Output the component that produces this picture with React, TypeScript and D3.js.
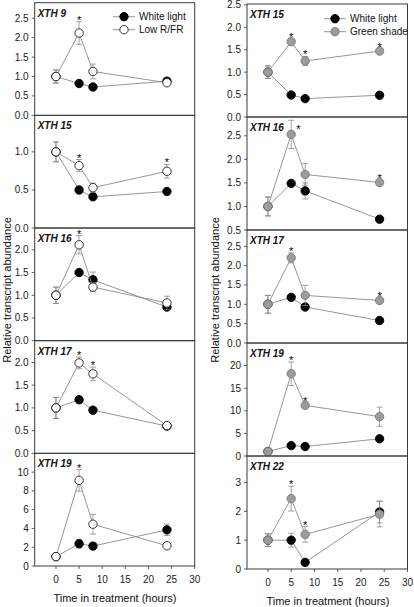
import React from "react";
import * as d3 from "d3";

const times = [0, 5, 8, 24];
const xTicks = [0, 5, 10, 15, 20, 25, 30];

// Left column: White light vs Low R/FR
const lXth9White = [1.0, 0.82, 0.73, 0.88];
const lXth9WhiteErr = [0.17, 0.07, 0.04, 0.03];
const lXth9Low = [1.0, 2.12, 1.13, 0.84];
const lXth9LowErr = [0.17, 0.29, 0.19, 0.04];
const lXth9Stars = [false, true, false, false];

const lXth15White = [1.0, 0.5, 0.41, 0.48];
const lXth15WhiteErr = [0.13, 0.05, 0.02, 0.02];
const lXth15Low = [1.0, 0.82, 0.53, 0.745];
const lXth15LowErr = [0.13, 0.08, 0.06, 0.09];
const lXth15Stars = [false, true, false, true];

const lXth16White = [1.0, 1.5, 1.34, 0.74];
const lXth16WhiteErr = [0.18, 0.05, 0.17, 0.04];
const lXth16Low = [1.0, 2.11, 1.18, 0.83];
const lXth16LowErr = [0.18, 0.2, 0.1, 0.15];
const lXth16Stars = [false, true, false, false];

const lXth17White = [1.0, 1.18, 0.95, 0.6];
const lXth17WhiteErr = [0.23, 0.07, 0.04, 0.06];
const lXth17Low = [1.0, 1.99, 1.75, 0.61];
const lXth17LowErr = [0.23, 0.13, 0.15, 0.07];
const lXth17Stars = [false, true, true, false];

const lXth19White = [1.0, 2.37, 2.12, 3.85];
const lXth19WhiteErr = [0.2, 0.45, 0.35, 0.6];
const lXth19Low = [1.0, 9.12, 4.45, 2.15];
const lXth19LowErr = [0.15, 1.15, 1.05, 0.2];
const lXth19Stars = [false, true, false, false];

// Right column: White light vs Green shade
const rXth15White = [1.0, 0.49, 0.41, 0.485];
const rXth15WhiteErr = [0.14, 0.03, 0.02, 0.02];
const rXth15Green = [1.0, 1.68, 1.25, 1.47];
const rXth15GreenErr = [0.14, 0.07, 0.1, 0.04];
const rXth15Stars = [false, true, true, true];

const rXth16White = [1.0, 1.49, 1.33, 0.73];
const rXth16WhiteErr = [0.2, 0.06, 0.17, 0.03];
const rXth16Green = [1.0, 2.53, 1.68, 1.51];
const rXth16GreenErr = [0.2, 0.3, 0.23, 0.05];
const rXth16Stars = [false, true, false, true];

const rXth17White = [1.0, 1.18, 0.93, 0.58];
const rXth17WhiteErr = [0.23, 0.05, 0.05, 0.05];
const rXth17Green = [1.0, 2.2, 1.23, 1.1];
const rXth17GreenErr = [0.23, 0.13, 0.26, 0.05];
const rXth17Stars = [false, true, false, true];

const rXth19White = [1.0, 2.3, 2.1, 3.8];
const rXth19WhiteErr = [0.2, 0.4, 0.3, 0.4];
const rXth19Green = [1.0, 18.2, 11.2, 8.7];
const rXth19GreenErr = [0.3, 2.6, 0.6, 2.1];
const rXth19Stars = [false, true, true, false];

const rXth22White = [1.0, 1.0, 0.23, 1.98];
const rXth22WhiteErr = [0.22, 0.24, 0.05, 0.38];
const rXth22Green = [1.0, 2.44, 1.2, 1.9];
const rXth22GreenErr = [0.22, 0.43, 0.27, 0.44];
const rXth22Stars = [false, true, true, false];

const leftLabels = ["XTH 9", "XTH 15", "XTH 16", "XTH 17", "XTH 19"];
const rightLabels = ["XTH 15", "XTH 16", "XTH 17", "XTH 19", "XTH 22"];

const leftDomains = [[0, 2.9], [0, 1.48], [0, 2.48], [0, 2.48], [0, 12]];
const leftTicks = [
  [0, 0.5, 1.0, 1.5, 2.0, 2.5],
  [0, 0.5, 1.0],
  [0, 0.5, 1.0, 1.5, 2.0],
  [0, 0.5, 1.0, 1.5, 2.0],
  [0, 2, 4, 6, 8, 10],
];
const rightDomains = [[0, 2.52], [0.5, 2.9], [0, 2.92], [0, 25], [0, 3.92]];
const rightTicks = [
  [0, 0.5, 1.0, 1.5, 2.0, 2.5],
  [0.5, 1.0, 1.5, 2.0, 2.5],
  [0, 0.5, 1.0, 1.5, 2.0, 2.5],
  [0, 5, 10, 15, 20],
  [0, 1, 2, 3],
];

const FONT = "'Liberation Sans', Arial, Helvetica, sans-serif";
const LINE = "#8a8a8a";
const FRAME = "#3a3a3a";

type Series = { mean: number[]; err: number[]; fill: string; stroke: string };

function Panel(props: {
  x0: number; x1: number; y0: number; y1: number;
  xDomain: [number, number]; yDomain: number[]; yTicks: number[];
  label: string; ctrl: Series; trt: Series; stars: boolean[];
  decimals: boolean; bottom: boolean;
}) {
  const { x0, x1, y0, y1, xDomain, yDomain, yTicks, label, ctrl, trt, stars, decimals, bottom } = props;
  const x = d3.scaleLinear().domain(xDomain).range([x0, x1]);
  const y = d3.scaleLinear().domain(yDomain).range([y1, y0]);
  const line = d3.line<number>().x((_, i) => x(times[i])).y((d) => y(d));
  const fmt = decimals ? d3.format(".1f") : d3.format("d");
  const drawSeries = (s: Series, key: string) => (
    <g key={key}>
      <path d={line(s.mean) || ""} fill="none" stroke={LINE} strokeWidth={0.9} />
      {s.mean.map((m, i) => {
        const cx = x(times[i]);
        const top = y(m + s.err[i]);
        const bot = y(Math.max(yDomain[0], m - s.err[i]));
        return (
          <g key={i}>
            <line x1={cx} x2={cx} y1={top} y2={bot} stroke={LINE} strokeWidth={0.8} />
            <line x1={cx - 3} x2={cx + 3} y1={top} y2={top} stroke={LINE} strokeWidth={0.8} />
            <line x1={cx - 3} x2={cx + 3} y1={bot} y2={bot} stroke={LINE} strokeWidth={0.8} />
          </g>
        );
      })}
      {s.mean.map((m, i) => (
        <circle key={"c" + i} cx={x(times[i])} cy={y(m)} r={4.2} fill={s.fill} stroke={s.stroke} strokeWidth={0.9} />
      ))}
    </g>
  );
  return (
    <g>
      <rect x={x0} y={y0} width={x1 - x0} height={y1 - y0} fill="none" stroke={FRAME} strokeWidth={1} />
      {yTicks.map((t) => (
        <g key={t}>
          <line x1={x0 - 3} x2={x0} y1={y(t)} y2={y(t)} stroke={FRAME} strokeWidth={0.8} />
          <text x={x0 - 6} y={y(t)} dy="0.35em" textAnchor="end" fontSize={10} fontFamily={FONT} fill="#222">
            {fmt(t)}
          </text>
        </g>
      ))}
      {bottom &&
        xTicks.map((t) => (
          <g key={"x" + t}>
            <line x1={x(t)} x2={x(t)} y1={y1} y2={y1 + 3} stroke={FRAME} strokeWidth={0.8} />
            <text x={x(t)} y={y1 + 17} textAnchor="middle" fontSize={10} fontFamily={FONT} fill="#222">
              {t}
            </text>
          </g>
        ))}
      <text x={x0 + 3} y={y0 + 14} fontSize={10} fontWeight="bold" fontStyle="italic" fontFamily={FONT} fill="#111">
        {label}
      </text>
      {drawSeries(ctrl, "ctrl")}
      {drawSeries(trt, "trt")}
      {stars.map((s, i) => {
        if (!s) return null;
        const m = trt.mean[i];
        const topVal = m + trt.err[i];
        const cx = x(times[i]);
        const topY = y(topVal);
        if (topY - 6 < y0) {
          return (
            <text key={"s" + i} x={cx + 5} y={y(m) - 1} fontSize={11} fontFamily={FONT} fill="#000">*</text>
          );
        }
        return (
          <text key={"s" + i} x={cx} y={topY + 2} textAnchor="middle" fontSize={11} fontFamily={FONT} fill="#000">
            *
          </text>
        );
      })}
    </g>
  );
}

function Legend(props: { x: number; y: number; trtName: string; trtFill: string; trtStroke: string }) {
  const { x, y, trtName, trtFill, trtStroke } = props;
  const rows = [
    { name: "White light", fill: "#000", stroke: "#000" },
    { name: trtName, fill: trtFill, stroke: trtStroke },
  ];
  return (
    <g>
      {rows.map((r, i) => (
        <g key={i} transform={`translate(0, ${i * 13})`}>
          <line x1={x} x2={x + 22} y1={y} y2={y} stroke={LINE} strokeWidth={0.9} />
          <circle cx={x + 11} cy={y} r={4.2} fill={r.fill} stroke={r.stroke} strokeWidth={0.9} />
          <text x={x + 26} y={y} dy="0.35em" fontSize={10} fontFamily={FONT} fill="#111">{r.name}</text>
        </g>
      ))}
    </g>
  );
}

export default function App() {
  const whiteS = (m: number[], e: number[]): Series => ({ mean: m, err: e, fill: "#000", stroke: "#000" });
  const openS = (m: number[], e: number[]): Series => ({ mean: m, err: e, fill: "#fff", stroke: "#222" });
  const greenS = (m: number[], e: number[]): Series => ({ mean: m, err: e, fill: "#9c9c9c", stroke: "#7a7a7a" });

  const leftData = [
    [whiteS(lXth9White, lXth9WhiteErr), openS(lXth9Low, lXth9LowErr), lXth9Stars],
    [whiteS(lXth15White, lXth15WhiteErr), openS(lXth15Low, lXth15LowErr), lXth15Stars],
    [whiteS(lXth16White, lXth16WhiteErr), openS(lXth16Low, lXth16LowErr), lXth16Stars],
    [whiteS(lXth17White, lXth17WhiteErr), openS(lXth17Low, lXth17LowErr), lXth17Stars],
    [whiteS(lXth19White, lXth19WhiteErr), openS(lXth19Low, lXth19LowErr), lXth19Stars],
  ] as [Series, Series, boolean[]][];
  const rightData = [
    [whiteS(rXth15White, rXth15WhiteErr), greenS(rXth15Green, rXth15GreenErr), rXth15Stars],
    [whiteS(rXth16White, rXth16WhiteErr), greenS(rXth16Green, rXth16GreenErr), rXth16Stars],
    [whiteS(rXth17White, rXth17WhiteErr), greenS(rXth17Green, rXth17GreenErr), rXth17Stars],
    [whiteS(rXth19White, rXth19WhiteErr), greenS(rXth19Green, rXth19GreenErr), rXth19Stars],
    [whiteS(rXth22White, rXth22WhiteErr), greenS(rXth22Green, rXth22GreenErr), rXth22Stars],
  ] as [Series, Series, boolean[]][];

  const lTop = 2.7, lH = 112.66;
  const rTop = 4, rH = 113;

  return (
    <svg width={414} height={607} style={{ position: "absolute", left: 0, top: 0, background: "#fff" }}>
      {leftData.map((d, i) => (
        <Panel key={"l" + i} x0={34.7} x1={194.7} y0={lTop + i * lH} y1={lTop + (i + 1) * lH}
          xDomain={[-4.6, 30]} yDomain={leftDomains[i]} yTicks={leftTicks[i]} label={leftLabels[i]}
          ctrl={d[0]} trt={d[1]} stars={d[2]} decimals={i < 4} bottom={i === 4} />
      ))}
      {rightData.map((d, i) => (
        <Panel key={"r" + i} x0={247} x1={407.5} y0={rTop + i * rH} y1={rTop + (i + 1) * rH}
          xDomain={[-4.5, 30]} yDomain={rightDomains[i]} yTicks={rightTicks[i]} label={rightLabels[i]}
          ctrl={d[0]} trt={d[1]} stars={d[2]} decimals={i < 3} bottom={i === 4} />
      ))}
      <Legend x={113} y={16.7} trtName="Low R/FR" trtFill="#fff" trtStroke="#222" />
      <Legend x={324} y={18.7} trtName="Green shade" trtFill="#9c9c9c" trtStroke="#7a7a7a" />
      <text transform="translate(11, 290) rotate(-90)" textAnchor="middle" fontSize={11} fontFamily={FONT} fill="#111">
        Relative transcript abundance
      </text>
      <text transform="translate(219, 290) rotate(-90)" textAnchor="middle" fontSize={11} fontFamily={FONT} fill="#111">
        Relative transcript abundance
      </text>
      <text x={115} y={602} textAnchor="middle" fontSize={11} fontFamily={FONT} fill="#111">
        Time in treatment (hours)
      </text>
      <text x={328} y={605} textAnchor="middle" fontSize={11} fontFamily={FONT} fill="#111">
        Time in treatment (hours)
      </text>
    </svg>
  );
}
